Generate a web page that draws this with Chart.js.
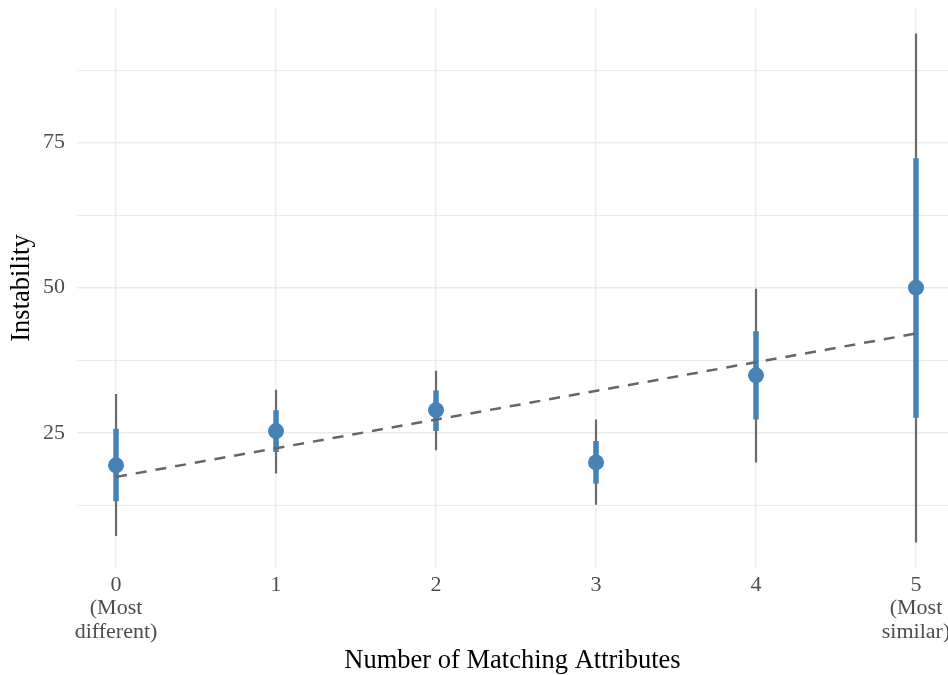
<!DOCTYPE html>
<html>
<head>
<meta charset="utf-8">
<script src="https://cdn.jsdelivr.net/npm/chart.js@4/dist/chart.umd.min.js"></script>
<style>
  html, body { margin: 0; padding: 0; background: #ffffff; }
  #wrap { width: 948px; height: 675px; }
</style>
</head>
<body>
<div id="wrap"><canvas id="c" width="948" height="675"></canvas></div>
<script>
// Categories (number of matching attributes)
const categories = [0, 1, 2, 3, 4, 5];
const tickLabels = [["0", "(Most", "different)"], ["1"], ["2"], ["3"], ["4"], ["5", "(Most", "similar)"]];
// Point estimates
const estimates = [19.4, 25.3, 28.9, 19.9, 34.9, 50.0];
// Inner (thick) interval
const innerLow = [13.2, 21.7, 25.3, 16.2, 27.3, 27.6];
const innerHigh = [25.7, 28.9, 32.3, 23.6, 42.5, 72.3];
// Outer (thin) interval
const outerLow = [7.2, 18.0, 22.0, 12.6, 19.9, 6.1];
const outerHigh = [31.7, 32.4, 35.7, 27.3, 49.8, 93.8];
// Fitted trend line endpoints
const trendX = [0, 5];
const trendY = [17.4, 42.1];
// Y axis ticks
const yGridTicks = [12.5, 25, 37.5, 50, 62.5, 75, 87.5];
const yLabelTicks = [25, 50, 75];

function segments(lo, hi) {
  const out = [];
  categories.forEach((c, i) => {
    out.push({ x: c, y: lo[i] });
    out.push({ x: c, y: hi[i] });
    out.push({ x: c, y: null });
  });
  return out;
}

const FONT = "'Liberation Serif', 'Times New Roman', serif";

new Chart(document.getElementById('c'), {
  type: 'line',
  data: {
    datasets: [
      {
        label: 'trend',
        data: trendX.map((x, i) => ({ x: x, y: trendY[i] })),
        borderColor: '#666666',
        borderWidth: 2.5,
        borderDash: [11, 9],
        pointRadius: 0,
        fill: false,
        order: 0
      },
      {
        label: 'estimate',
        data: categories.map((c, i) => ({ x: c, y: estimates[i] })),
        showLine: false,
        pointRadius: 8,
        pointBackgroundColor: '#4682B4',
        pointBorderColor: '#4682B4',
        pointBorderWidth: 0,
        order: 1
      },
      {
        label: 'inner',
        data: segments(innerLow, innerHigh),
        borderColor: '#4682B4',
        borderWidth: 5.5,
        borderCapStyle: 'butt',
        spanGaps: false,
        pointRadius: 0,
        order: 2
      },
      {
        label: 'outer',
        data: segments(outerLow, outerHigh),
        borderColor: '#6b6b6b',
        borderWidth: 2.2,
        borderCapStyle: 'butt',
        spanGaps: false,
        pointRadius: 0,
        order: 3
      }
    ]
  },
  options: {
    responsive: false,
    animation: false,
    layout: { autoPadding: false, padding: { left: 0, right: 0, top: 8, bottom: 0 } },
    plugins: { legend: { display: false }, tooltip: { enabled: false } },
    scales: {
      x: {
        type: 'linear',
        min: -0.244,
        max: 5.2,
        afterBuildTicks: s => { s.ticks = categories.map(v => ({ value: v })); },
        afterFit: s => { s.height = 107; s.paddingLeft = 0; s.paddingRight = 0; },
        border: { display: false },
        grid: { color: '#ebebeb', lineWidth: 1.4, drawTicks: false },
        ticks: {
          autoSkip: false,
          maxRotation: 0,
          padding: 5,
          color: '#4d4d4d',
          font: { family: FONT, size: 22, lineHeight: 1.07 },
          callback: (v) => { const i = categories.indexOf(v); return i >= 0 ? tickLabels[i] : ''; }
        },
        title: {
          display: true,
          text: 'Number of Matching Attributes',
          color: '#000000',
          font: { family: FONT, size: 26.5, lineHeight: 1.05 },
          padding: { top: 0, bottom: 0 }
        }
      },
      y: {
        type: 'linear',
        min: 1.7,
        max: 98.2,
        afterBuildTicks: s => { s.ticks = yGridTicks.map(v => ({ value: v })); },
        afterFit: s => { s.width = 77; s.paddingTop = 0; s.paddingBottom = 0; },
        border: { display: false },
        grid: {
          color: '#ebebeb',
          lineWidth: ctx => (yLabelTicks.includes(ctx.tick && ctx.tick.value) ? 1.5 : 1.1),
          drawTicks: false
        },
        ticks: {
          autoSkip: false,
          padding: 12,
          color: '#4d4d4d',
          font: { family: FONT, size: 22 },
          callback: v => (yLabelTicks.includes(v) ? String(v) : '')
        },
        title: {
          display: true,
          text: 'Instability',
          color: '#000000',
          font: { family: FONT, size: 26.5, lineHeight: 1.2 },
          padding: { top: 6, bottom: 0 }
        }
      }
    }
  }
});
</script>
</body>
</html>
